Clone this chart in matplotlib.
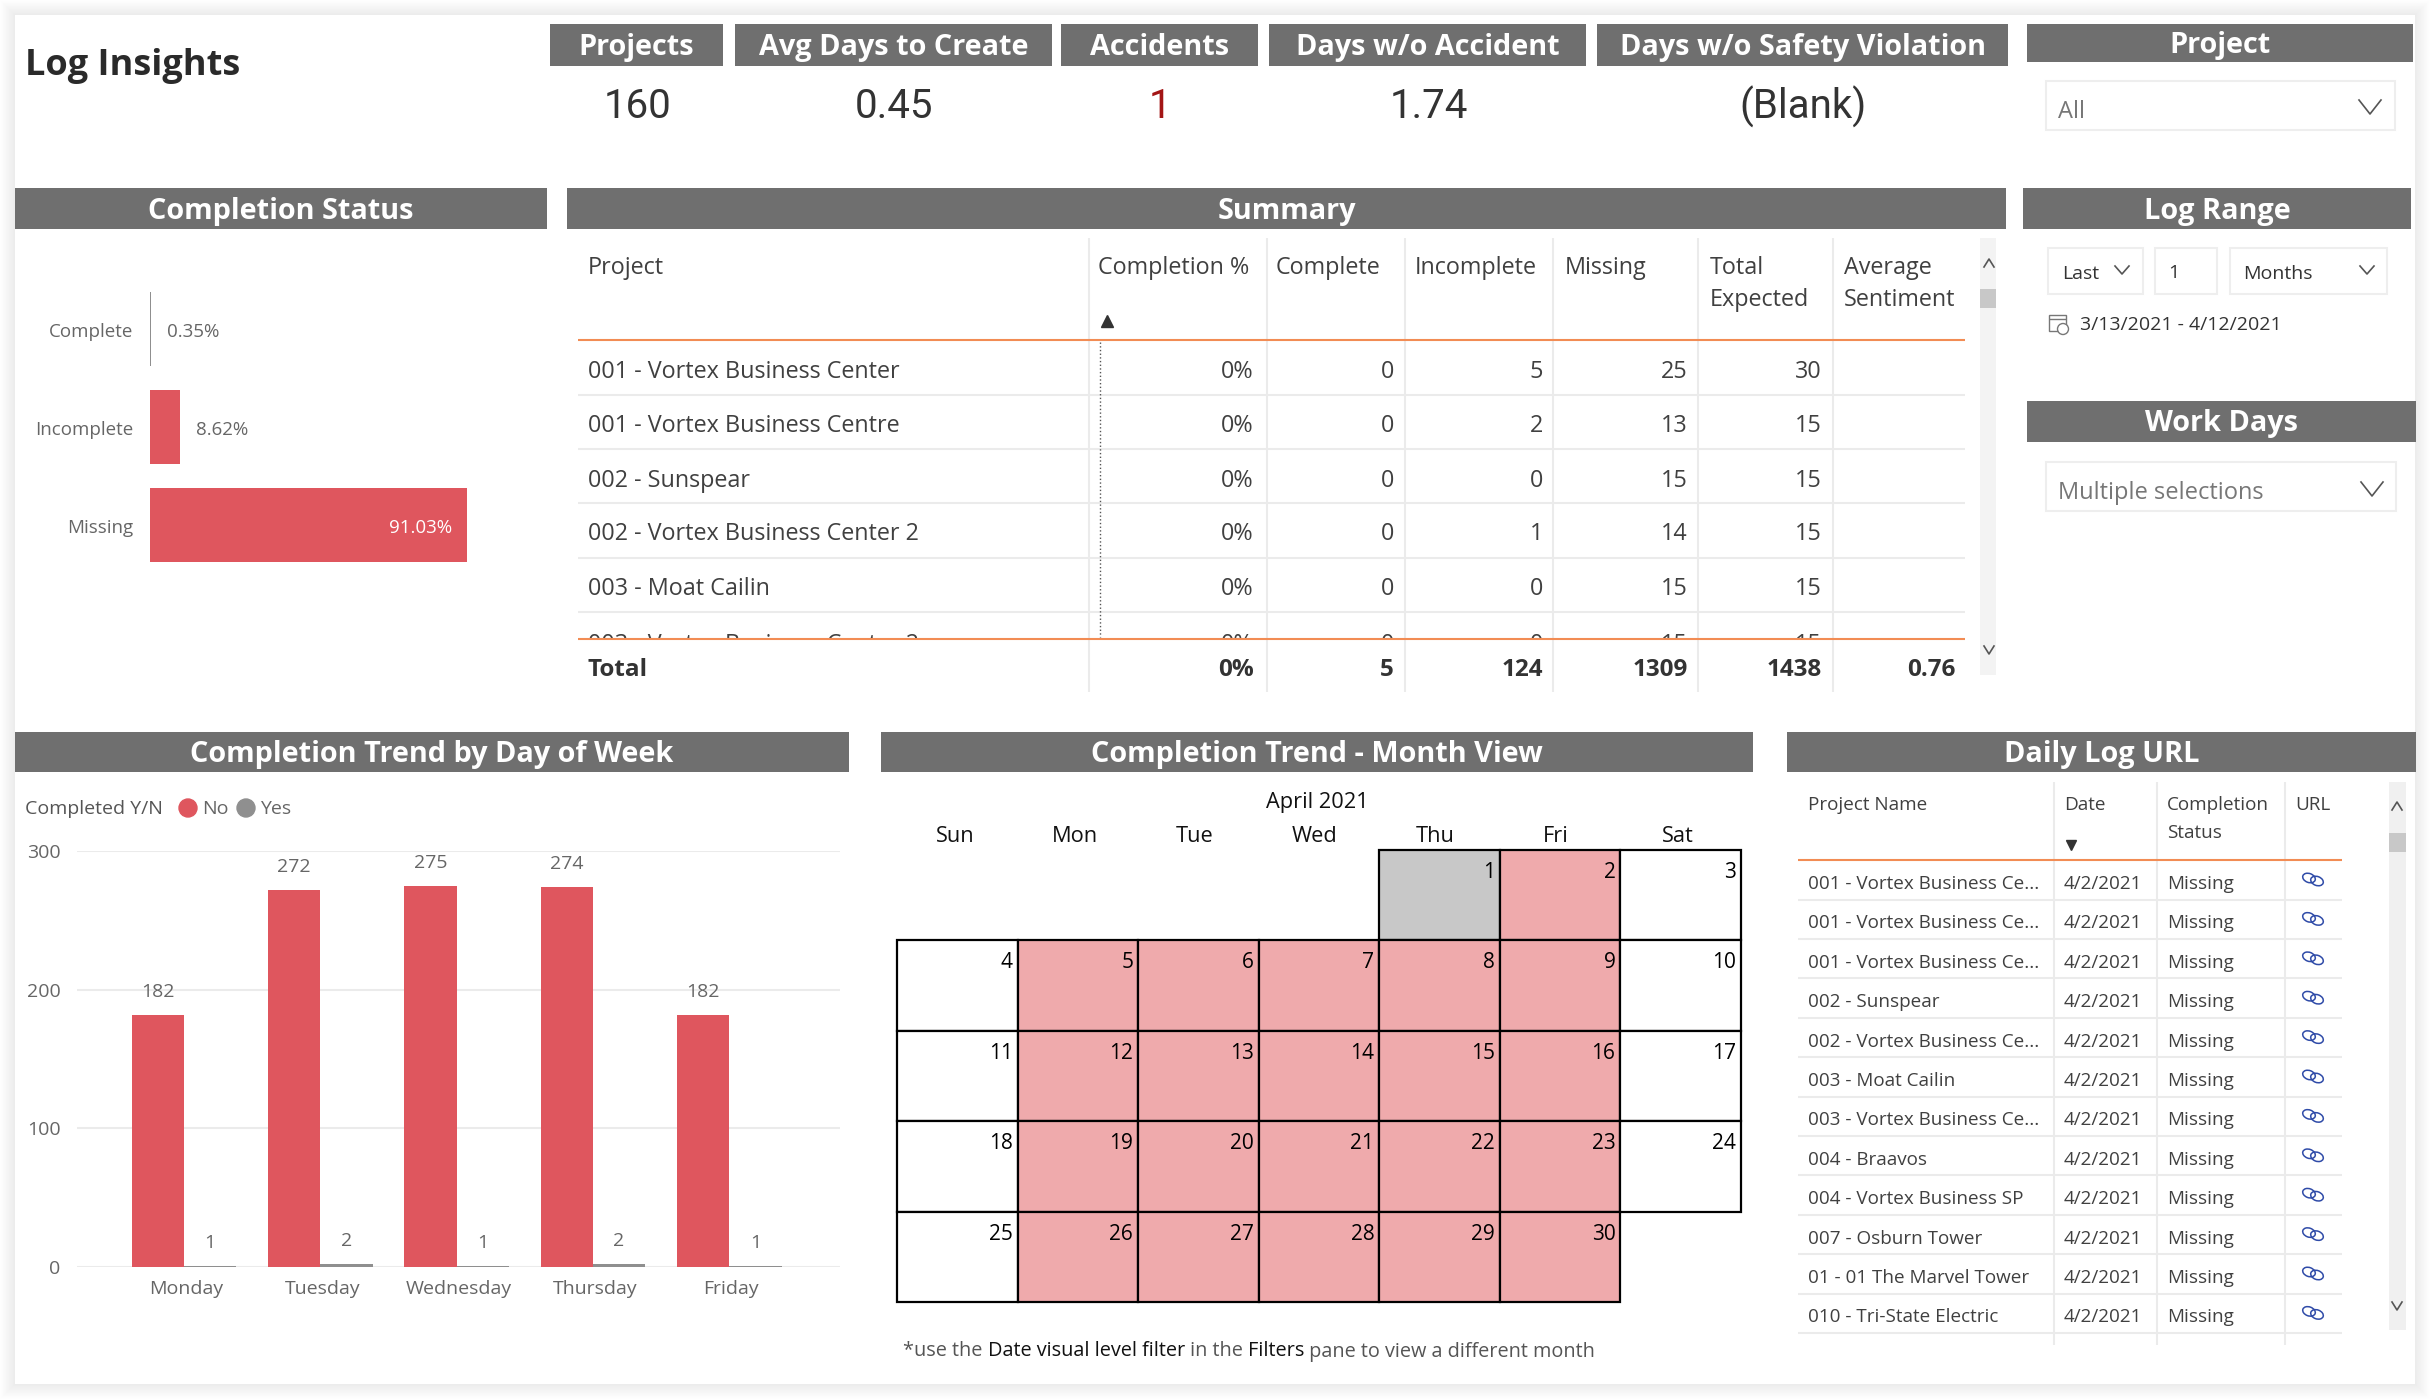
import matplotlib
matplotlib.use("Agg")
import matplotlib.pyplot as plt
from matplotlib.patches import Rectangle, Circle, Ellipse
from matplotlib.transforms import Bbox

plt.rcParams["font.family"] = ["Open Sans", "DejaVu Sans"]

W, H = 2430, 1399
GREY = "#6f6f6f"
RED = "#df565e"
BAR_GREY = "#8f8f8f"
PINK = "#efaaac"
CAL_GREY = "#c8c8c8"
ORANGE = "#f28c54"
SEP = "#ebebeb"
TXT = "#404040"
LABEL = "#666666"

# data
KPI_NAMES = ["Projects", "Avg Days to Create", "Accidents", "Days w/o Accident", "Days w/o Safety Violation"]
KPI_VALUES = ["160", "0.45", "1", "1.74", "(Blank)"]

STATUS = ["Complete", "Incomplete", "Missing"]
STATUS_PCT = [0.35, 8.62, 91.03]

SUMMARY_COLS = ["Project", "Completion %", "Complete", "Incomplete", "Missing", "Total\nExpected", "Average\nSentiment"]
SUMMARY_PROJECTS = ["001 - Vortex Business Center", "001 - Vortex Business Centre", "002 - Sunspear",
                    "002 - Vortex Business Center 2", "003 - Moat Cailin", "003 - Vortex Business Center 2"]
SUMMARY_PCT = ["0%", "0%", "0%", "0%", "0%", "0%"]
SUMMARY_COMPLETE = [0, 0, 0, 0, 0, 0]
SUMMARY_INCOMPLETE = [5, 2, 0, 1, 0, 0]
SUMMARY_MISSING = [25, 13, 15, 14, 15, 15]
SUMMARY_EXPECTED = [30, 15, 15, 15, 15, 15]
SUMMARY_TOTAL = ["Total", "0%", "5", "124", "1309", "1438", "0.76"]

DAYS = ["Monday", "Tuesday", "Wednesday", "Thursday", "Friday"]
NO_COUNTS = [182, 272, 275, 274, 182]
YES_COUNTS = [1, 2, 1, 2, 1]

WEEKDAYS = ["Sun", "Mon", "Tue", "Wed", "Thu", "Fri", "Sat"]
MONTH_TITLE = "April 2021"
MONTH_DAYS = list(range(1, 31))
FIRST_WEEKDAY = 4
NO_LOG_DAYS = [1]

URL_COLS = ["Project Name", "Date", "Completion\nStatus", "URL"]
URL_PROJECTS = ["001 - Vortex Business Ce...", "001 - Vortex Business Ce...", "001 - Vortex Business Ce...",
                "002 - Sunspear", "002 - Vortex Business Ce...", "003 - Moat Cailin",
                "003 - Vortex Business Ce...", "004 - Braavos", "004 - Vortex Business SP",
                "007 - Osburn Tower", "01 - 01 The Marvel Tower", "010 - Tri-State Electric"]
URL_DATE = "4/2/2021"
URL_STATUS = "Missing"

fig = plt.figure(figsize=(W / 100, H / 100), dpi=100, facecolor="white")
bg = fig.add_axes([0, 0, 1, 1])
bg.set_xlim(0, W)
bg.set_ylim(H, 0)
bg.axis("off")


def axes_px(x0, y0, x1, y1):
    ax = fig.add_axes([x0 / W, 1 - y1 / H, (x1 - x0) / W, (y1 - y0) / H])
    ax.patch.set_alpha(0)
    return ax


def rect(x0, y0, x1, y1, color, **kw):
    bg.add_patch(Rectangle((x0, y0), x1 - x0, y1 - y0, facecolor=color, edgecolor=kw.pop("edge", "none"), **kw))


def line(x0, y0, x1, y1, color=SEP, lw=1.5, **kw):
    bg.plot([x0, x1], [y0, y1], color=color, lw=lw, solid_capstyle="butt", **kw)


def text(x, y, s, size=16.8, color=TXT, ha="left", **kw):
    return bg.text(x, y, s, fontsize=size, color=color, ha=ha, va="center_baseline", **kw)


def header(x0, y0, x1, y1, s, size=20.8):
    rect(x0, y0, x1, y1, GREY)
    text((x0 + x1) / 2, (y0 + y1) / 2 - 1, s, size=size, color="white", ha="center", fontweight="bold")


def chevron(x, y, w=9, h=6, color="#555555", up=False):
    s = -1 if up else 1
    bg.plot([x - w, x, x + w], [y - s * h, y + s * h, y - s * h], color=color, lw=1.2)


def slicer(x0, y0, x1, y1):
    rect(x0, y0, x1, y1, "white", edge="#eeeeee", lw=1.5)


# page with its soft shadow
for off in range(15, 0, -1):
    shade = 255 - int((16 - off) * 1.3)
    rect(15 - off, 15 - off, 2415 + off, 1384 + off, f"#{shade:02x}{shade:02x}{shade:02x}")
rect(15, 15, 2415, 1384, "white")

text(25, 62, "Log Insights", size=26, color="#2a2a2a", fontweight="bold")

kpi_x = [(550, 723), (735, 1052), (1061, 1258), (1269, 1586), (1597, 2008)]
kpi_center = [638, 894, 1160, 1429, 1803]
for i, name in enumerate(KPI_NAMES):
    header(kpi_x[i][0], 24, kpi_x[i][1], 66, name)
    color = "#a31515" if name == "Accidents" else "#333333"
    bg.text(kpi_center[i], 102, KPI_VALUES[i], fontsize=29, color=color, ha="center", va="center_baseline",
            family="Roboto")

header(2027, 24, 2413, 62, "Project")
slicer(2046, 81, 2395, 130)
text(2058, 109, "All", size=17, color="#777777")
chevron(2370, 107, 11, 7)

header(15, 188, 547, 229, "Completion Status")
header(567, 188, 2006, 229, "Summary")
header(2023, 188, 2411, 229, "Log Range")
header(2027, 401, 2416, 442, "Work Days")
header(15, 732, 849, 772, "Completion Trend by Day of Week")
header(881, 732, 1753, 772, "Completion Trend - Month View")
header(1787, 732, 2416, 772, "Daily Log URL")

# completion status bars
ax = axes_px(150, 280, 500, 574)
bar_colors = [BAR_GREY, RED, RED]
ax.barh(range(3), STATUS_PCT, height=0.755, color=bar_colors)
ax.set_xlim(0, 350 / 3.483)
ax.set_ylim(2.5, -0.5)
ax.axis("off")
for i, (name, pct) in enumerate(zip(STATUS, STATUS_PCT)):
    ax.annotate(name, (0, i), xytext=(-17, -3), textcoords="offset pixels", ha="right", va="center",
                fontsize=13.5, color=LABEL)
    if pct > 50:
        ax.annotate(f"{pct}%", (pct, i), xytext=(-15, -3), textcoords="offset pixels", ha="right", va="center",
                    fontsize=13.5, color="white")
    else:
        ax.annotate(f"{pct}%", (pct, i), xytext=(16, -3), textcoords="offset pixels", ha="left", va="center",
                    fontsize=13.5, color=LABEL)

# summary table
col_sep = [1089, 1267, 1405, 1553, 1698, 1833]
head_x = [588, 1098, 1276, 1415, 1565, 1710, 1844]
right_x = [1254, 1394, 1543, 1688, 1822, 1956]
row_y = [369, 423, 478, 531, 586, 642]
row_sep = [395, 449, 503, 558, 612]
for x in col_sep:
    line(x, 238, x, 692)
for y in row_sep:
    line(578, y, 1965, y)
for x, name in zip(head_x, SUMMARY_COLS):
    for j, part in enumerate(name.split("\n")):
        text(x, 265 + 32 * j, part)
bg.plot([1107], [321], marker="^", color="#333333", ms=8)
line(1100, 342, 1100, 637, color="#555555", lw=1, ls=":")
clip = Bbox([[570, H - 638], [1970, H - 340]])
columns = [SUMMARY_PCT, SUMMARY_COMPLETE, SUMMARY_INCOMPLETE, SUMMARY_MISSING, SUMMARY_EXPECTED]
for i, y in enumerate(row_y):
    cells = [text(588, y, SUMMARY_PROJECTS[i])]
    for rx, col in zip(right_x, columns):
        cells.append(text(rx, y, str(col[i]), ha="right"))
    for t in cells:
        t.set_clip_box(clip)
        t.set_clip_on(True)
line(578, 340, 1965, 340, color=ORANGE, lw=1.5, zorder=3)
line(578, 639, 1965, 639, color=ORANGE, lw=1.5, zorder=3)
text(588, 667, SUMMARY_TOTAL[0], size=17.5, fontweight="bold", color="#333333", zorder=3)
for rx, v in zip(right_x, SUMMARY_TOTAL[1:]):
    text(rx, 667, v, size=17.5, ha="right", fontweight="bold", color="#333333", zorder=3)
rect(1980, 238, 1996, 675, "#f3f3f3")
rect(1980, 289, 1996, 308, "#c8c8c8")
chevron(1989, 263, 5, 4, up=True)
chevron(1989, 650, 5, 4)

# log range
slicer(2048, 248, 2143, 294)
slicer(2155, 248, 2217, 294)
slicer(2230, 248, 2387, 294)
text(2062, 272, "Last", size=14, color="#333333")
chevron(2122, 270, 7, 4)
text(2168, 271, "1", size=14, color="#333333")
text(2243, 272, "Months", size=14, color="#333333")
chevron(2367, 270, 7, 4)
rect(2049, 315, 2066, 331, "none", edge="#777777", lw=1)
line(2049, 319, 2066, 319, color="#777777", lw=1)
bg.add_patch(Circle((2063, 329), 5.5, facecolor="white", edgecolor="#777777", lw=1, zorder=3))
text(2080, 323, "3/13/2021 - 4/12/2021", size=14, color="#333333")

slicer(2046, 462, 2396, 511)
text(2058, 490, "Multiple selections", size=17, color="#777777")
chevron(2372, 489, 11, 7)

# day of week chart
ax = axes_px(77, 851, 840, 1267)
pos = list(range(len(DAYS)))
bw = 0.384
no_bars = ax.bar([p - bw / 2 for p in pos], NO_COUNTS, bw, color=RED, zorder=2)
yes_bars = ax.bar([p + bw / 2 for p in pos], YES_COUNTS, bw, color=BAR_GREY, zorder=2)
ax.set_xlim(-0.785, 4.813)
ax.set_ylim(0, 300)
ax.set_yticks([0, 100, 200, 300])
ax.set_xticks([p + 0.015 for p in pos], DAYS)
ax.grid(axis="y", color=SEP, lw=1.5)
ax.set_axisbelow(True)
ax.tick_params(length=0, labelsize=14, labelcolor=LABEL, pad=9)
ax.tick_params(axis="y", pad=12)
for s in ax.spines.values():
    s.set_visible(False)
for bars in (no_bars, yes_bars):
    ax.bar_label(bars, padding=10, fontsize=14, color=LABEL)
text(25, 807, "Completed Y/N", size=14, color="#555555")
bg.add_patch(Circle((188, 808), 9, color=RED))
text(202, 807, "No", size=14, color=LABEL)
bg.add_patch(Circle((246, 808), 9, color=BAR_GREY))
text(260, 807, "Yes", size=14, color=LABEL)

# calendar
ax = axes_px(897, 850, 1741, 1302)
ax.set_xlim(0, 7)
ax.set_ylim(5, 0)
ax.axis("off")
for day in MONTH_DAYS:
    idx = FIRST_WEEKDAY + day - 1
    row, col = idx // 7, idx % 7
    if day in NO_LOG_DAYS:
        fc = CAL_GREY
    elif col in (0, 6):
        fc = "white"
    else:
        fc = PINK
    ax.add_patch(Rectangle((col, row), 1, 1, facecolor=fc, edgecolor="black", lw=1.6, clip_on=False))
    ax.annotate(str(day), (col + 1, row), xytext=(-5, -20), textcoords="offset pixels", ha="right",
                va="center_baseline", fontsize=15, color="black")
text(1317, 800, MONTH_TITLE, size=15.7, color="#111111", ha="center")
cal_x = [955, 1075, 1195, 1315, 1435, 1556, 1678]
for x, name in zip(cal_x, WEEKDAYS):
    text(x, 834, name, size=15.7, color="#111111", ha="center")

note = text(903, 1349, "*use the ", size=14.3, color="#555555")
for part, color in [("Date visual level filter", "#111111"), (" in the ", "#555555"),
                    ("Filters", "#111111"), (" pane to view a different month", "#555555")]:
    note = bg.annotate(part, xy=(1, 0), xycoords=note, va="bottom", ha="left", fontsize=14.3, color=color)

# daily log table
url_sep = [2054, 2157, 2285]
for x in url_sep:
    line(x, 782, x, 1345)
for x, name in zip([1808, 2064, 2167, 2295], URL_COLS):
    for j, part in enumerate(name.split("\n")):
        text(x, 803 + 28 * j, part, size=13.6)
bg.plot([2071], [845], marker="v", color="#333333", ms=7)
line(1798, 860, 2342, 860, color=ORANGE, lw=1.5)
for i, name in enumerate(URL_PROJECTS):
    y = 882 + 39.4 * i
    text(1808, y, name, size=13.6)
    text(2064, y, URL_DATE, size=13.6)
    text(2167, y, URL_STATUS, size=13.6)
    line(1798, y + 17.5, 2342, y + 17.5)
    bg.add_patch(Ellipse((2309, y - 4), 13, 9, angle=20, fill=False, edgecolor="#2f4ba8", lw=1.1))
    bg.add_patch(Ellipse((2317, y - 1), 13, 9, angle=20, fill=False, edgecolor="#2f4ba8", lw=1.1))
rect(2389, 782, 2406, 1330, "#f0f0f0")
rect(2389, 833, 2406, 852, "#c8c8c8")
chevron(2397, 806, 5, 4, up=True)
chevron(2397, 1306, 5, 4)

fig.savefig("out.png", dpi=100, facecolor=fig.get_facecolor())
